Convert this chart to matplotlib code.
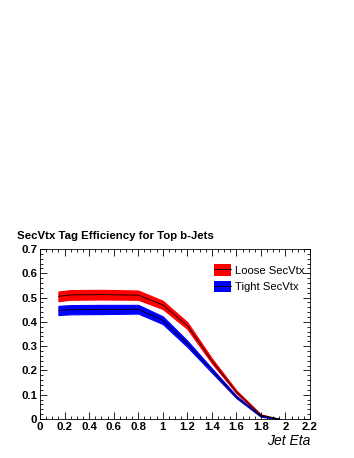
import matplotlib
matplotlib.use('Agg')
import matplotlib.pyplot as plt
from matplotlib.patches import Patch
from matplotlib.lines import Line2D
from matplotlib.ticker import MultipleLocator

plt.rcParams['font.family'] = ['Liberation Sans', 'DejaVu Sans']

eta = [0.15, 0.25, 0.5, 0.8, 1.0, 1.2, 1.4, 1.6, 1.8, 1.95]
loose_eff = [0.505, 0.511, 0.512, 0.510, 0.470, 0.385, 0.240, 0.112, 0.016, 0.0]
loose_err = [0.020, 0.020, 0.020, 0.019, 0.017, 0.014, 0.010, 0.006, 0.003, 0.0]
tight_eff = [0.447, 0.450, 0.451, 0.452, 0.407, 0.310, 0.200, 0.091, 0.011, 0.0]
tight_err = [0.019, 0.019, 0.019, 0.018, 0.016, 0.013, 0.009, 0.005, 0.002, 0.0]

xticks = [0, 0.2, 0.4, 0.6, 0.8, 1.0, 1.2, 1.4, 1.6, 1.8, 2.0, 2.2]
xlabels = ['0', '0.2', '0.4', '0.6', '0.8', '1', '1.2', '1.4', '1.6', '1.8', '2', '2.2']
yticks = [0, 0.1, 0.2, 0.3, 0.4, 0.5, 0.6, 0.7]
ylabels = ['0', '0.1', '0.2', '0.3', '0.4', '0.5', '0.6', '0.7']

fig = plt.figure(figsize=(3.54, 4.58), dpi=100)
ax = fig.add_axes([40/354, 1-419/458, 270/354, 170/458])

def band(x, y, e, color):
    lo = [a - b for a, b in zip(y, e)]
    hi = [a + b for a, b in zip(y, e)]
    ax.fill_between(x, lo, hi, color=color, lw=0.8, edgecolor=color)
    ax.plot(x, y, color='black', lw=0.6)

band(eta, loose_eff, loose_err, '#ff0000')
band(eta, tight_eff, tight_err, '#0000ff')

ax.set_xlim(0, 2.2)
ax.set_ylim(0, 0.7)
ax.xaxis.set_minor_locator(MultipleLocator(0.05))
ax.yaxis.set_minor_locator(MultipleLocator(0.02))
ax.tick_params(which='both', direction='in', top=True, right=True, width=0.6)
ax.tick_params(which='major', length=5, labelsize=8.2, pad=2)
ax.tick_params(which='minor', length=2.5)
ax.set_xticks(xticks)
ax.set_xticklabels(xlabels, fontweight='bold')
ax.set_yticks(yticks)
ax.set_yticklabels(ylabels, fontweight='bold')
for s in ax.spines.values():
    s.set_linewidth(0.6)

fig.text(310/354, 1-441/458, 'Jet Eta', style='italic', fontsize=10,
         ha='right', va='center')
fig.text(17/354, 1-236/458, 'SecVtx Tag Efficiency for Top b-Jets', fontsize=8.2,
         fontweight='bold', va='center', ha='left')

handles = [(Patch(facecolor='#ff0000'), Line2D([], [], color='black', lw=0.6)),
           (Patch(facecolor='#0000ff'), Line2D([], [], color='black', lw=0.6))]
ax.legend(handles, ['Loose SecVtx', 'Tight SecVtx'], loc='upper right', frameon=False,
          fontsize=8.1, handlelength=1.5, handleheight=1.2, handletextpad=0.35,
          labelspacing=0.45, bbox_to_anchor=(1.003, 0.95), borderaxespad=0.2)

fig.savefig('out.png', dpi=100)
